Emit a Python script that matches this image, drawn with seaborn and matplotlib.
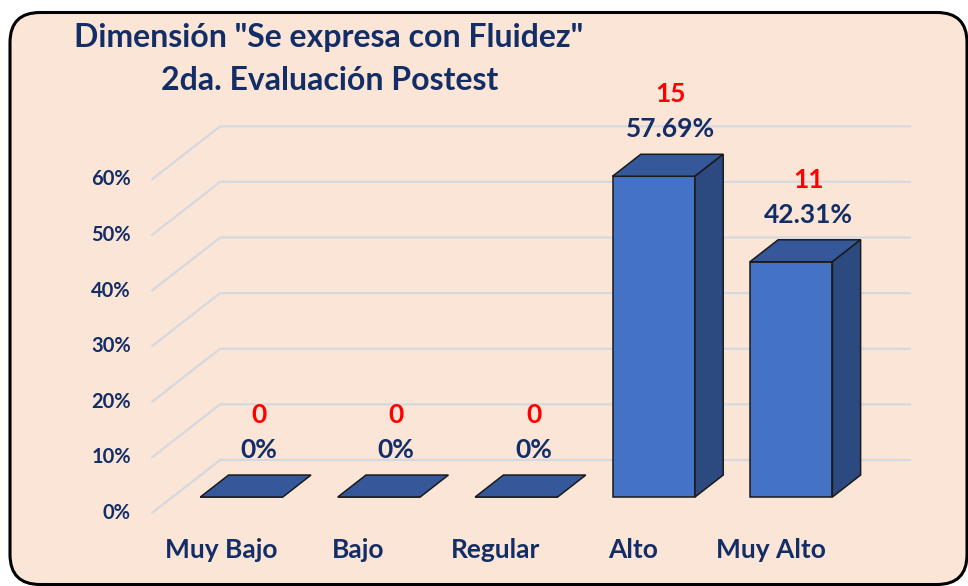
"""
Dimensión "Se expresa con Fluidez" - 2da. Evaluación Postest (barras 3D)
"""

import matplotlib.pyplot as plt
import seaborn as sns
import numpy as np
from matplotlib.patches import Polygon, FancyBboxPatch

# Datos
categorias = ['Muy Bajo', 'Bajo', 'Regular', 'Alto', 'Muy Alto']
frecuencias = [0, 0, 0, 15, 11]
porcentajes = [0, 0, 0, 57.69, 42.31]
etiquetas_pct = ['0%', '0%', '0%', '57.69%', '42.31%']
ticks_y = [0, 10, 20, 30, 40, 50, 60]

sns.set_theme(style="white")
plt.rcParams['font.family'] = ['Lato', 'DejaVu Sans']

NAVY = '#132E66'
FONDO = '#FBE5D6'
FRENTE = '#4472C4'
LADO = '#2C4A7F'
TAPA = '#34589A'
BORDE = '#1a1a1a'
GRID = '#D5D9DF'

# geometria de la perspectiva (en unidades de datos)
DX, DY = 0.495, 9.53       # profundidad total del grafico
F_FRONT, F_BACK = -0.30, 0.70
F_BAR = 0.415              # profundidad de la barra

fig = plt.figure(figsize=(9.68, 5.86), dpi=100)
fig.patch.set_facecolor('white')

# marco redondeado
marco = FancyBboxPatch((0.10, 0.015), 9.57, 5.72,
                       boxstyle="round,pad=0,rounding_size=0.3",
                       transform=fig.dpi_scale_trans,
                       facecolor=FONDO, edgecolor='black', linewidth=2.2,
                       zorder=-1)
fig.patches.append(marco)

ax = fig.add_axes([0, 0, 1, 1])
ax.set_facecolor('none')

# caras frontales
sns.barplot(x=categorias, y=porcentajes, width=0.6, color=FRENTE,
            saturation=1, edgecolor=BORDE, linewidth=1.1, ax=ax, zorder=3)

# lineas de cuadricula (pared lateral + fondo)
x_ini = -0.651
x_fin = 4.865
for v in ticks_y:
    y0 = v + F_FRONT * DY
    y1 = v + F_BACK * DY
    xb = x_ini + (F_BACK - F_FRONT) * DX
    ax.plot([x_ini, xb, x_fin], [y0, y1, y1], color=GRID, lw=1.6, zorder=1,
            solid_joinstyle='miter')
    ax.text(x_ini - 0.155, y0, f'{v}%', ha='right', va='center',
            fontsize=14.5, fontweight='bold', color=NAVY)

# caras superior y lateral
ddx, ddy = F_BAR * DX, F_BAR * DY
for bar in ax.patches[:len(categorias)]:
    x0 = bar.get_x()
    w = bar.get_width()
    h = bar.get_height()
    x1 = x0 + w
    tapa = Polygon([(x0, h), (x1, h), (x1 + ddx, h + ddy), (x0 + ddx, h + ddy)],
                   closed=True, facecolor=TAPA, edgecolor=BORDE, lw=1.1, zorder=3)
    ax.add_patch(tapa)
    if h > 0:
        lado = Polygon([(x1, 0), (x1 + ddx, ddy), (x1 + ddx, h + ddy), (x1, h)],
                       closed=True, facecolor=LADO, edgecolor=BORDE, lw=1.1, zorder=3)
        ax.add_patch(lado)

# etiquetas de datos
for i, (n, p, lab) in enumerate(zip(frecuencias, porcentajes, etiquetas_pct)):
    xc = i + 0.125
    yp = p + ddy + 4.5
    ax.text(xc, yp, lab, ha='center', va='center', fontsize=19,
            fontweight='bold', color=NAVY, zorder=5)
    ax.text(xc, yp + 6.3, str(n), ha='center', va='center', fontsize=19,
            fontweight='bold', color='#FF0000', zorder=5)

# etiquetas de categorias (plano frontal)
for i, c in enumerate(categorias):
    ax.text(i + F_FRONT * DX, -9.5, c, ha='center', va='center',
            fontsize=19, fontweight='bold', color=NAVY)

ax.set_xlim(-1.758, 5.287)
ax.set_ylim(-16.0, 89.39)
ax.axis('off')

# titulo
fig.text(329 / 968, 1 - 37 / 586, 'Dimensión "Se expresa con Fluidez"',
         ha='center', va='center', fontsize=23, fontweight='bold', color=NAVY)
fig.text(330 / 968, 1 - 80 / 586, '2da. Evaluación Postest',
         ha='center', va='center', fontsize=23, fontweight='bold', color=NAVY)

fig.savefig('out.png', dpi=100)
